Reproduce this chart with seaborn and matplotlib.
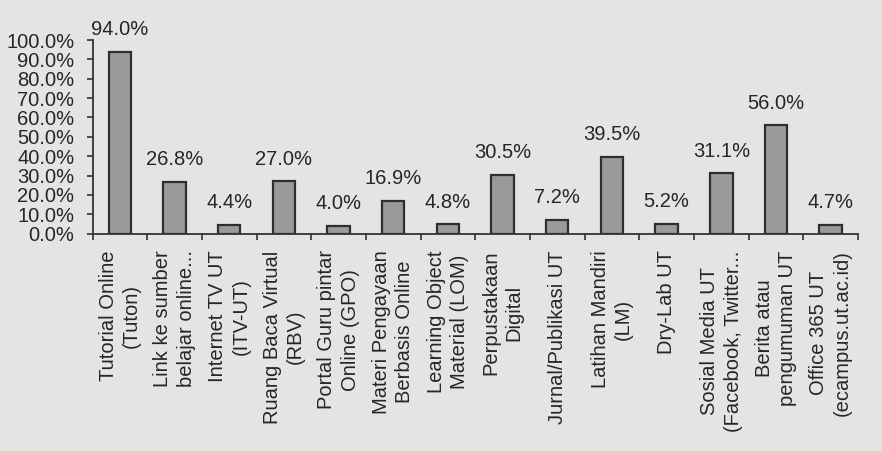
import numpy as np
import pandas as pd
import matplotlib
matplotlib.use("Agg")
import matplotlib.pyplot as plt
import seaborn as sns

categories = [
    "Tutorial Online\n(Tuton)",
    "Link ke sumber\nbelajar online...",
    "Internet TV UT\n(ITV-UT)",
    "Ruang Baca Virtual\n(RBV)",
    "Portal Guru pintar\nOnline (GPO)",
    "Materi Pengayaan\nBerbasis Online",
    "Learning Object\nMaterial (LOM)",
    "Perpustakaan\nDigital",
    "Jurnal/Publikasi UT",
    "Latihan Mandiri\n(LM)",
    "Dry-Lab UT",
    "Sosial Media UT\n(Facebook, Twitter...",
    "Berita atau\npengumuman UT",
    "Office 365 UT\n(ecampus.ut.ac.id)",
]
values = [94.0, 26.8, 4.4, 27.0, 4.0, 16.9, 4.8, 30.5, 7.2, 39.5, 5.2, 31.1, 56.0, 4.7]
y_ticks = [0, 10, 20, 30, 40, 50, 60, 70, 80, 90, 100]

sns.set_style("ticks")
plt.rcParams["font.family"] = ["Liberation Sans", "DejaVu Sans"]

BG = "#e4e4e2"
TXT = "#262626"

fig = plt.figure(figsize=(8.82, 4.51), dpi=100, facecolor=BG)
ax = fig.add_axes([0.1049, 0.4818, 0.9728 - 0.1049, 0.9113 - 0.4818])
ax.set_facecolor(BG)

df = pd.DataFrame({"cat": categories, "val": values})
sns.barplot(data=df, x="cat", y="val", ax=ax, color="#9a9a9a",
            saturation=1, width=0.41, edgecolor="#2e2e2e", linewidth=1.6)

for i, v in enumerate(values):
    ax.annotate(f"{v:.1f}%", (i, v), xytext=(0, 16), textcoords="offset points",
                ha="center", va="center", fontsize=14.5, color=TXT)

ax.set_xlim(-0.5, len(categories) - 0.5)
ax.set_ylim(0, 100)
ax.set_yticks(y_ticks)
ax.set_yticklabels([f"{t:.1f}%" for t in y_ticks])
ax.set_xticks(range(len(categories)))
ax.set_xticklabels(categories, rotation=90, ha="center", va="top",
                   multialignment="center", linespacing=1.3)
ax.set_xticks(np.arange(-0.5, len(categories), 1), minor=True)

ax.tick_params(axis="x", which="major", length=0, pad=12, labelsize=14.5, colors=TXT)
ax.tick_params(axis="x", which="minor", length=4.5, width=1.2, color="#333333", direction="out")
ax.tick_params(axis="y", which="major", length=4, width=1.2, pad=9, labelsize=14.5,
               colors=TXT, color="#333333")

ax.set_xlabel("")
ax.set_ylabel("")
for s in ["top", "right"]:
    ax.spines[s].set_visible(False)
for s in ["left", "bottom"]:
    ax.spines[s].set_color("#333333")
    ax.spines[s].set_linewidth(1.3)

fig.savefig("out.png", dpi=100, facecolor=BG)
